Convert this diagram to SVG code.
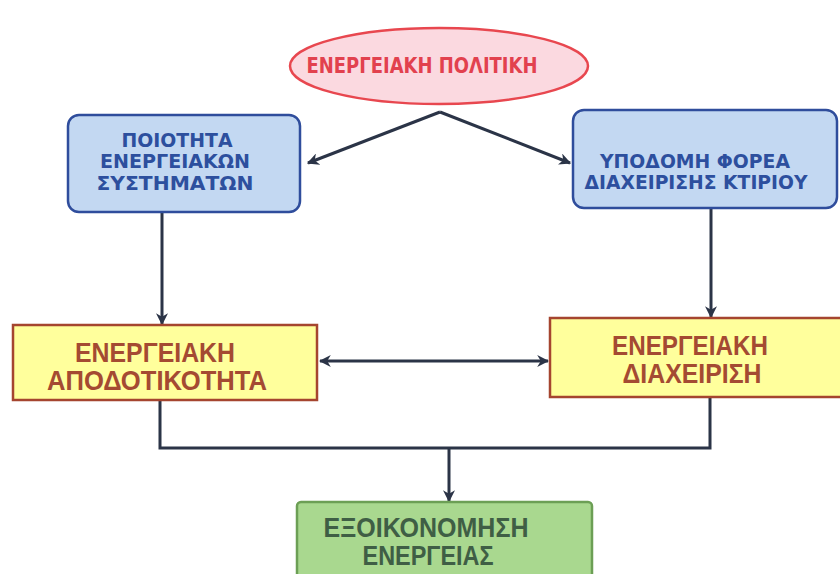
<svg xmlns="http://www.w3.org/2000/svg" width="840" height="574" viewBox="0 0 840 574">
<defs>
<marker id="ah" viewBox="0 0 10 10" refX="9" refY="5" markerWidth="4" markerHeight="4" orient="auto-start-reverse" markerUnits="strokeWidth">
<path d="M0,0 L10,5 L0,10 L3,5 z" fill="#2b3447"/>
</marker>
<style>
.t{font-family:"Liberation Sans",Arial,sans-serif;font-weight:bold;text-anchor:middle}
.k{font-family:"DejaVu Sans Condensed","DejaVu Sans",sans-serif;font-stretch:condensed;font-weight:bold;text-anchor:middle}
.red{fill:#e2414e}
.blue{fill:#2d4f9e}
.brown{fill:#a44a32}
.green{fill:#3f5e45}
.c{fill:none;stroke:#2b3447;stroke-width:3}
</style>
</defs>
<rect width="840" height="574" fill="#ffffff"/>
<g id="connectors">
<path class="c" d="M440,112 L308,163" marker-end="url(#ah)"/>
<path class="c" d="M440,112 L570,163" marker-end="url(#ah)"/>
<path class="c" d="M162,212 L162,324" marker-end="url(#ah)"/>
<path class="c" d="M711,208 L711,317" marker-end="url(#ah)"/>
<path class="c" d="M320,361 L548,361" marker-start="url(#ah)" marker-end="url(#ah)"/>
<path class="c" d="M160,400 L160,448 L710,448 L710,397"/>
<path class="c" d="M449,448 L449,501" marker-end="url(#ah)"/>
</g>
<g id="policy">
<ellipse cx="439" cy="66" rx="149" ry="38" fill="#fbd9e0" stroke="#e8474f" stroke-width="2.5"/>
<text class="k red" font-size="22" x="422" y="73" textLength="231" lengthAdjust="spacingAndGlyphs">ΕΝΕΡΓΕΙΑΚΗ ΠΟΛΙΤΙΚΗ</text>
</g>
<g id="quality">
<rect x="68" y="115" width="232" height="97" rx="11" fill="#c3d8f2" stroke="#2f4d9c" stroke-width="2.5"/>
<text class="k blue" font-size="19" x="177" y="147" textLength="111" lengthAdjust="spacingAndGlyphs">ΠΟΙΟΤΗΤΑ</text>
<text class="k blue" font-size="19" x="175" y="168" textLength="150" lengthAdjust="spacingAndGlyphs">ΕΝΕΡΓΕΙΑΚΩΝ</text>
<text class="k blue" font-size="19" x="175" y="190" textLength="157" lengthAdjust="spacingAndGlyphs">ΣΥΣΤΗΜΑΤΩΝ</text>
</g>
<g id="infrastructure">
<rect x="573" y="110" width="264" height="98" rx="11" fill="#c3d8f2" stroke="#2f4d9c" stroke-width="2.5"/>
<text class="k blue" font-size="19" x="695" y="168" textLength="190" lengthAdjust="spacingAndGlyphs">ΥΠΟΔΟΜΗ ΦΟΡΕΑ</text>
<text class="k blue" font-size="19" x="696" y="189" textLength="223" lengthAdjust="spacingAndGlyphs">ΔΙΑΧΕΙΡΙΣΗΣ ΚΤΙΡΙΟΥ</text>
</g>
<g id="efficiency">
<rect x="13" y="325" width="304" height="75" fill="#ffff9c" stroke="#a5452f" stroke-width="2.5"/>
<text class="t brown" font-size="28" x="155" y="362" textLength="160" lengthAdjust="spacingAndGlyphs">ΕΝΕΡΓΕΙΑΚΗ</text>
<text class="t brown" font-size="28" x="157" y="390" textLength="220" lengthAdjust="spacingAndGlyphs">ΑΠΟΔΟΤΙΚΟΤΗΤΑ</text>
</g>
<g id="management">
<rect x="550" y="318" width="292" height="79" fill="#ffff9c" stroke="#a5452f" stroke-width="2.5"/>
<text class="t brown" font-size="28" x="690" y="355" textLength="156" lengthAdjust="spacingAndGlyphs">ΕΝΕΡΓΕΙΑΚΗ</text>
<text class="t brown" font-size="28" x="692" y="383" textLength="139" lengthAdjust="spacingAndGlyphs">ΔΙΑΧΕΙΡΙΣΗ</text>
</g>
<g id="saving">
<rect x="297" y="502" width="295" height="90" rx="4" fill="#a9d88f" stroke="#6c9f55" stroke-width="2.5"/>
<text class="t green" font-size="27" x="426" y="537" textLength="205" lengthAdjust="spacingAndGlyphs">ΕΞΟΙΚΟΝΟΜΗΣΗ</text>
<text class="t green" font-size="27" x="428" y="565" textLength="131" lengthAdjust="spacingAndGlyphs">ΕΝΕΡΓΕΙΑΣ</text>
</g>
</svg>
